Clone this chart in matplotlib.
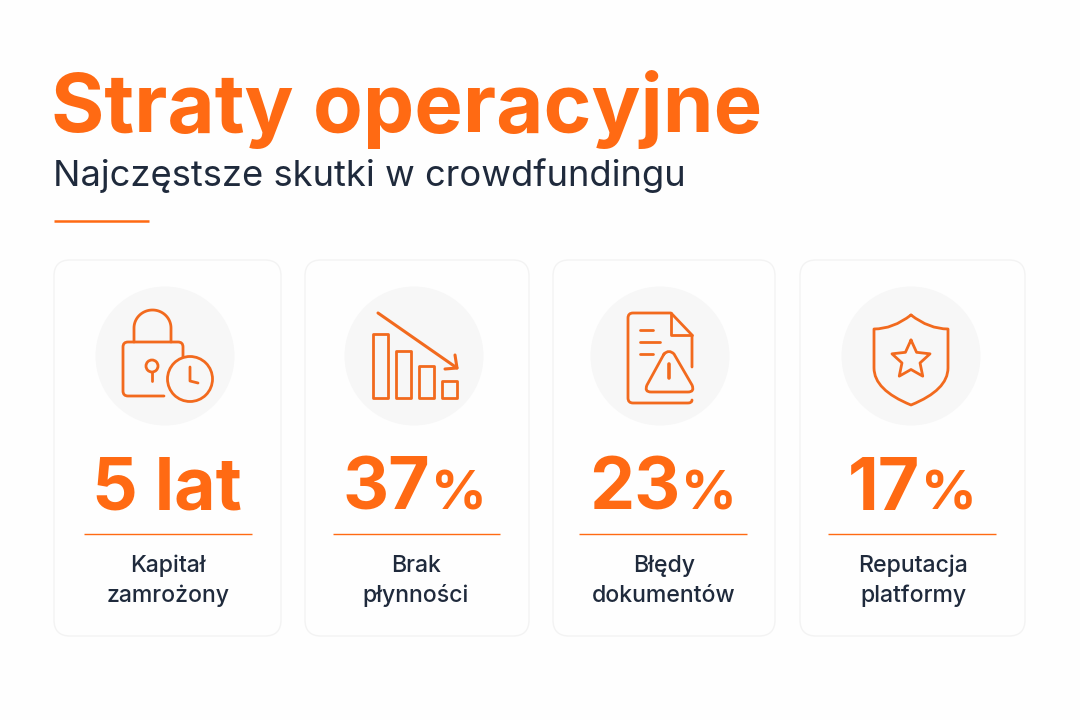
import numpy as np
import matplotlib
matplotlib.use("Agg")
import matplotlib.pyplot as plt
from matplotlib.patches import Circle, FancyBboxPatch, Rectangle, PathPatch
from matplotlib.path import Path

ORANGE = "#FF6A13"
ICON = "#F26A1E"
DARK = "#1F2A3C"
LW = 2.0

title = "Straty operacyjne"
subtitle = "Najczęstsze skutki w crowdfundingu"
values = ["5 lat", "37", "23", "17"]
units = ["", "%", "%", "%"]
labels = ["Kapitał\nzamrożony", "Brak\npłynności", "Błędy\ndokumentów", "Reputacja\nplatformy"]

card_left = [54, 305, 553, 800]
card_right = [281, 529, 775, 1025]
circle_x = [165, 414, 660, 911]
text_x = [167, 415, 663, 912]
rule_left = [84, 333, 579, 828]
rule_right = [252, 500, 747, 996]

plt.rcParams["font.family"] = ["Inter", "DejaVu Sans"]
fig = plt.figure(figsize=(10.8, 7.2), dpi=100, facecolor="#FEFEFE")
ax = fig.add_axes([0, 0, 1, 1])
ax.set_xlim(0, 1080)
ax.set_ylim(720, 0)
ax.axis("off")


def line(pts, lw=LW, closed=False):
    pts = np.array(pts, dtype=float)
    if closed:
        pts = np.vstack([pts, pts[:1]])
    ax.plot(pts[:, 0], pts[:, 1], color=ICON, lw=lw, solid_capstyle="round",
            solid_joinstyle="round", zorder=4)


def ring(x, y, r, lw=LW):
    ax.add_patch(Circle((x, y), r, fill=False, ec=ICON, lw=lw, zorder=4))


def curve(verts, codes, lw=LW):
    ax.add_patch(PathPatch(Path(verts, codes), fill=False, ec=ICON, lw=lw,
                           capstyle="round", joinstyle="round", zorder=4))


def lock_icon():
    # shackle
    t = np.linspace(np.pi, 0, 40)
    xs = 152.5 + 18.5 * np.cos(t)
    ys = 328 - 18 * np.sin(t)
    line(np.vstack([[134, 342], np.column_stack([xs, ys]), [171, 342]]))
    # body, open where the clock sits
    curve([(164, 396), (128, 396), (123, 396), (123, 391), (123, 347), (123, 342),
           (128, 342), (178, 342), (183, 342), (183, 347), (183, 357)],
          [Path.MOVETO, Path.LINETO, Path.CURVE3, Path.CURVE3, Path.LINETO, Path.CURVE3,
           Path.CURVE3, Path.LINETO, Path.CURVE3, Path.CURVE3, Path.LINETO])
    ring(152, 366, 6)
    line([(152, 372), (152, 381)])
    ring(190, 379, 22.5)
    line([(190, 367), (190, 381), (198, 383)])


def bars_icon():
    for x0, top in zip([373, 396, 419, 442], [334, 351, 366, 381]):
        ax.add_patch(Rectangle((x0, top), 15, 398 - top, fill=False, ec=ICON, lw=LW,
                               joinstyle="round", zorder=4))
    line([(378, 313), (457, 368)], lw=2.2)
    line([(455, 355), (457, 368), (445, 369)], lw=2.2)


def doc_icon():
    curve([(692, 367), (692, 335), (671, 313), (633, 313), (628, 313), (628, 318),
           (628, 398), (628, 403), (633, 403), (688, 403), (692, 403), (692, 400)],
          [Path.MOVETO, Path.LINETO, Path.LINETO, Path.LINETO, Path.CURVE3, Path.CURVE3,
           Path.LINETO, Path.CURVE3, Path.CURVE3, Path.LINETO, Path.CURVE3, Path.CURVE3])
    line([(671, 313), (671, 335), (692, 335)])
    line([(640, 330), (653, 330)])
    line([(640, 342), (660, 342)])
    line([(640, 354), (653, 354)])
    curve([(664, 354), (669, 349), (674, 354), (692, 385), (695, 392), (688, 392),
           (651, 392), (644, 392), (647, 385), (664, 354)],
          [Path.MOVETO, Path.CURVE3, Path.CURVE3, Path.LINETO, Path.CURVE3, Path.CURVE3,
           Path.LINETO, Path.CURVE3, Path.CURVE3, Path.LINETO])
    line([(669, 364), (669, 378)], lw=2.6)
    line([(669, 383.5), (669, 384)], lw=3.2)


def shield_icon():
    curve([(911, 315), (893, 329), (874, 329), (874, 368),
           (874, 390), (911, 405), (948, 390), (948, 368), (948, 329),
           (929, 329), (911, 315)],
          [Path.MOVETO, Path.CURVE3, Path.CURVE3, Path.LINETO,
           Path.CURVE3, Path.CURVE3, Path.CURVE3, Path.CURVE3, Path.LINETO,
           Path.CURVE3, Path.CURVE3])
    ang = np.deg2rad(-90 + 36 * np.arange(10))
    rad = np.where(np.arange(10) % 2 == 0, 20, 9.5)
    line(np.column_stack([911 + rad * np.cos(ang), 360 + rad * np.sin(ang)]), closed=True)


ax.text(51, 132, title, fontsize=58.7, fontweight="bold", color=ORANGE, va="baseline")
ax.text(53, 186, subtitle, fontsize=26.2, color=DARK, va="baseline")
ax.plot([54, 149], [221, 221], color=ORANGE, lw=1.8, solid_capstyle="butt")

icons = [lock_icon, bars_icon, doc_icon, shield_icon]
renderer = fig.canvas.get_renderer()

for i in range(4):
    ax.add_patch(FancyBboxPatch((card_left[i] + 16, 276), card_right[i] - card_left[i] - 32, 344,
                                boxstyle="round,pad=16,rounding_size=16",
                                fc="#FEFEFE", ec="#F3F3F3", lw=1, zorder=1))
    ax.add_patch(Circle((circle_x[i], 356), 69.5, fc="#F7F7F7", ec="none", zorder=2))
    icons[i]()

    # number and smaller unit centred together
    big = ax.text(0, 510, values[i], fontsize=51.5, fontweight="bold", color=ORANGE, va="baseline")
    w_big = big.get_window_extent(renderer).width
    if units[i]:
        small = ax.text(0, 510, units[i], fontsize=39.5, fontweight="bold", color=ORANGE, va="baseline")
        w_small = small.get_window_extent(renderer).width
        start = text_x[i] - (w_big + w_small + 1) / 2
        big.set_x(start)
        small.set_x(start + w_big + 1)
    else:
        big.set_x(text_x[i] - w_big / 2)

    ax.plot([rule_left[i], rule_right[i]], [534, 534], color=ORANGE, lw=1, solid_capstyle="butt")
    first, second = labels[i].split("\n")
    ax.text(text_x[i] + 1, 572, first, fontsize=16.6, fontweight=500, color=DARK, ha="center", va="baseline")
    ax.text(text_x[i] + 1, 602, second, fontsize=16.6, fontweight=500, color=DARK, ha="center", va="baseline")

fig.savefig("out.png", dpi=100, facecolor=fig.get_facecolor())
